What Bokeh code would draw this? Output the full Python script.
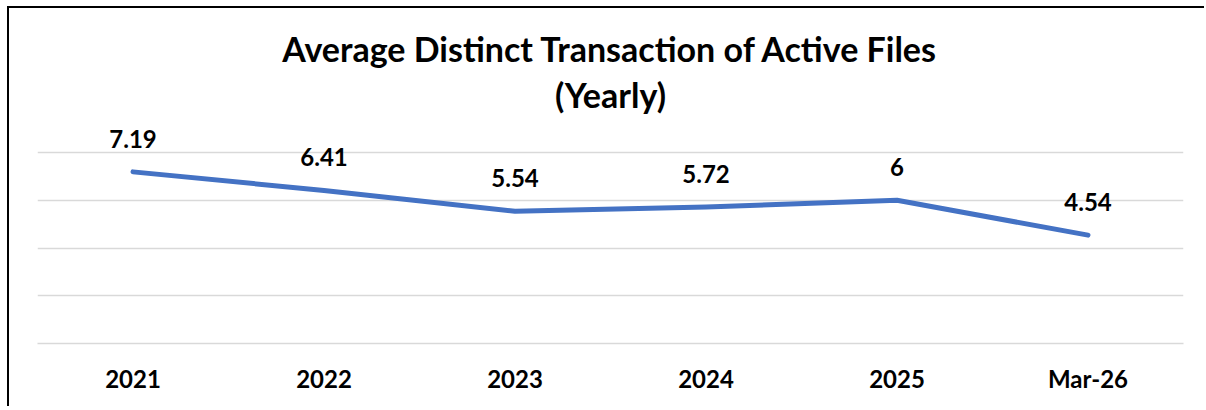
from bokeh.plotting import figure
from bokeh.models import ColumnDataSource, LabelSet, Title, FactorRange, Range1d
from bokeh.core.properties import value
from bokeh.embed import file_html
from bokeh.resources import INLINE

categories = ["2021", "2022", "2023", "2024", "2025", "Mar-26"]
values = [7.19, 6.41, 5.54, 5.72, 6.0, 4.54]
value_labels = ["7.19", "6.41", "5.54", "5.72", "6", "4.54"]
grid_ticks = [0, 2, 4, 6, 8]
title_line1 = "Average Distinct Transaction of Active Files"
title_line2 = "(Yearly)"

FONT = "Lato"
LINE_COLOR = "#4472C4"
GRID_COLOR = "#D9D9D9"

src = ColumnDataSource(dict(cat=categories, val=values, lab=value_labels))

p = figure(
    x_range=FactorRange(*categories, range_padding=0),
    y_range=Range1d(0, 9.3),
    width=1197, height=400,
    output_backend="svg", toolbar_location=None,
    min_border_left=28, min_border_right=23, min_border_bottom=65, min_border_top=113,
    title=None,
)
p.styles = {"margin-left": "7px", "margin-top": "6px",
            "border-top": "2px solid black", "border-left": "2px solid black"}

p.line("cat", "val", source=src, line_color=LINE_COLOR, line_width=5, line_cap="round",
       line_join="round")

labels = LabelSet(x="cat", y="val", text="lab", source=src, y_offset=33,
                  text_align="center", text_baseline="middle",
                  text_font=value(FONT), text_font_style="bold", text_font_size="24px",
                  text_color="black")
p.add_layout(labels)

t2 = Title(text=title_line2, align="center", text_font=FONT, text_font_style="bold",
           text_font_size="34px", text_color="black", standoff=13)
t1 = Title(text=title_line1, align="center", text_font=FONT, text_font_style="bold",
           text_font_size="34px", text_color="black", standoff=-7)
p.add_layout(t2, "above")
p.add_layout(t1, "above")

p.yaxis.visible = False
p.ygrid.ticker = grid_ticks
p.ygrid.grid_line_color = GRID_COLOR
p.ygrid.grid_line_width = 1.5
p.xgrid.visible = False

p.xaxis.axis_line_color = GRID_COLOR
p.xaxis.axis_line_width = 1.5
p.xaxis.major_tick_line_color = None
p.xaxis.minor_tick_line_color = None
p.xaxis.major_label_text_font = FONT
p.xaxis.major_label_text_font_style = "bold"
p.xaxis.major_label_text_font_size = "24px"
p.xaxis.major_label_text_color = "black"
p.xaxis.major_label_standoff = 14

p.outline_line_color = None
p.background_fill_color = "white"
p.border_fill_color = "white"

open("out.html", "w").write(file_html(p, INLINE))
